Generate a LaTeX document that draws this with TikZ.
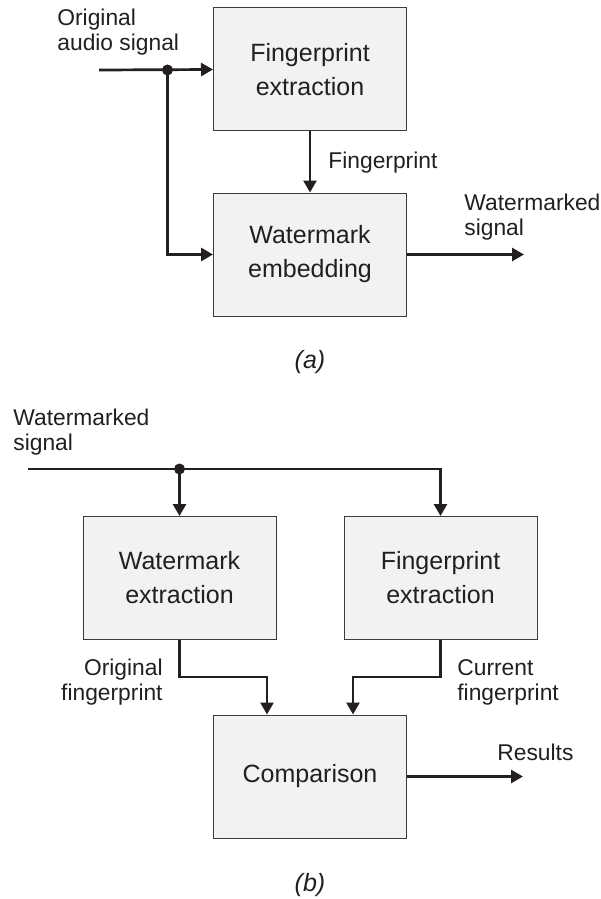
\documentclass[tikz,border=0pt]{standalone}
\usepackage{fontspec}
\setmainfont{Liberation Sans}
\usetikzlibrary{arrows.meta}
\definecolor{boxgray}{RGB}{241,242,243}
\definecolor{boxedge}{RGB}{60,60,60}
\definecolor{inkt}{RGB}{35,31,32}
\begin{document}
\begin{tikzpicture}[
      x=0.5pt, y=-0.5pt,
      blok/.style={rectangle, fill=boxgray, draw=boxedge, line width=0.5pt,
        minimum width=96.5pt, minimum height=61.5pt, inner sep=0pt,
        align=center, font=\fontsize{12.5}{17}\selectfont},
      lijn/.style={line width=1.35pt, draw=inkt},
      pijl/.style={lijn, -{Triangle[length=6pt,width=6.5pt]}},
      stip/.style={circle, fill=inkt, inner sep=0pt, minimum size=5.5pt},
      label/.style={inner sep=0pt, font=\fontsize{11.4}{12.5}\selectfont},
      onder/.style={inner sep=0pt, font=\fontsize{12.5}{15}\selectfont\itshape}
    ]
    \color{inkt}
    \useasboundingbox (0,0) rectangle (600,899);
    % (a) embedding
    \path (310,69.5)  node(fpa) [blok] {Fingerprint\\extraction}
    (310,254.5) node(wea) [blok] {Watermark\\embedding};
    \coordinate (ina) at (99,70);
    \coordinate (outa) at (524,254.5);
    \node[stip] (dota) at (167.5,70) {};
    \draw[pijl] (ina) -- (fpa.west);
    \draw[pijl] (dota.center) |- (wea.west);
    \draw[pijl] (fpa) -- (wea);
    \draw[pijl] (wea) -- (outa);
    \path (57,32.5) node(lorig) [label, anchor=west, align=left] {Original\\audio signal}
    (328,163) node(lfp) [label, anchor=west] {Fingerprint}
    (464,217.5) node(lwm) [label, anchor=west, align=left] {Watermarked\\signal}
    (310,362) node(capa) [onder] {(a)};
    % (b) detection
    \path (179.5,578) node(wmx) [blok] {Watermark\\extraction}
    (440.5,578) node(fpx) [blok] {Fingerprint\\extraction}
    (310,776.5) node(cmp) [blok] {Comparison};
    \coordinate (inb) at (28,469);
    \coordinate (outb) at (523,776.5);
    \node[stip] (dotb) at (179.5,469) {};
    \draw[lijn] (inb) -- (dotb.center);
    \draw[pijl] (dotb.center) -| (fpx.north);
    \draw[pijl] (dotb.center) -- (wmx.north);
    \draw[pijl] (wmx.south) -- ++(0,37) -| ([xshift=-21.5pt]cmp.north);
    \draw[pijl] (fpx.south) -- ++(0,37) -| ([xshift=21.5pt]cmp.north);
    \draw[pijl] (cmp) -- (outb);
    \path (13,432) node(lwmb) [label, anchor=west, align=left] {Watermarked\\signal}
    (163,682) node(lofp) [label, anchor=east, align=right] {Original\\fingerprint}
    (457,682) node(lcfp) [label, anchor=west, align=left] {Current\\fingerprint}
    (497,752) node(lres) [label, anchor=west] {Results}
    (310,885) node(capb) [onder] {(b)};
  \end{tikzpicture}
\end{document}
